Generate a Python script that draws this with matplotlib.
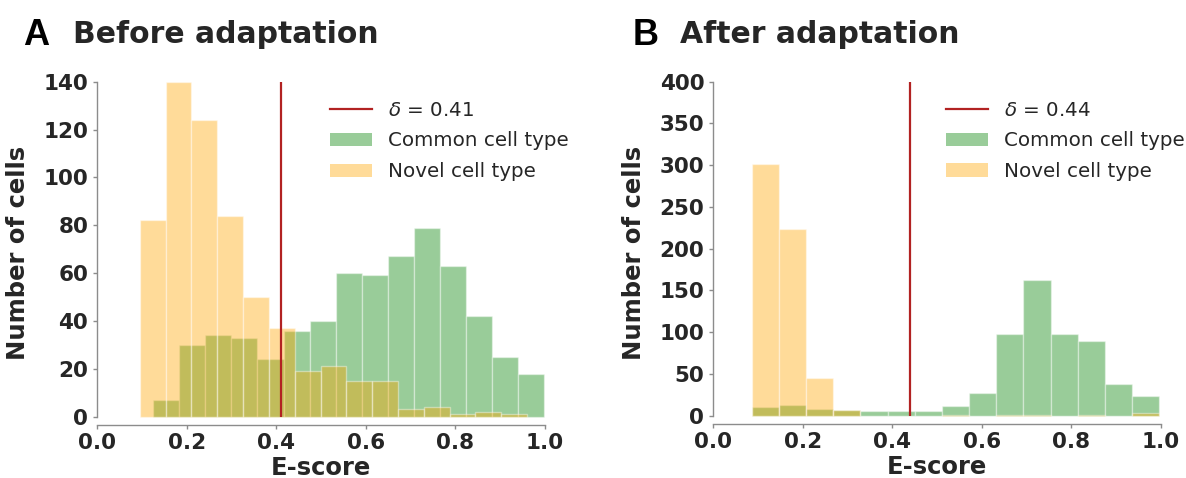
import numpy as np
import matplotlib
matplotlib.use("Agg")
import matplotlib.pyplot as plt
from matplotlib.patches import Patch
from matplotlib.lines import Line2D

# ---------------- data ----------------
# Panel A (before adaptation)
a_common_range = (0.125, 0.998)
a_common_counts = [7, 30, 34, 33, 24, 36, 40, 60, 59, 67, 79, 63, 42, 25, 18]
a_novel_range = (0.095, 0.960)
a_novel_counts = [82, 140, 124, 84, 50, 37, 19, 21, 15, 15, 3, 4, 1, 2, 1]
a_delta = 0.41

# Panel B (after adaptation)
b_common_range = (0.086, 0.996)
b_common_counts = [10, 13, 8, 7, 6, 5, 6, 11, 27, 98, 162, 98, 90, 38, 24]
b_novel_range = (0.086, 0.996)
b_novel_counts = [301, 223, 45, 7, 0, 0, 0, 1, 0, 1, 1, 0, 1, 0, 3]
b_delta = 0.44

titles = ["Before adaptation", "After adaptation"]
panel_letters = ["A", "B"]
xticks = [0.0, 0.2, 0.4, 0.6, 0.8, 1.0]
a_yticks = [0, 20, 40, 60, 80, 100, 120, 140]
b_yticks = [0, 50, 100, 150, 200, 250, 300, 350, 400]

# ---------------- style ----------------
plt.rcParams['font.family'] = ['DejaVu Sans']
TXT = '#262626'
SPINE = '#8c8c8c'
GREEN = 'green'
ORANGE = 'orange'
RED = '#b22222'

W, H = 1186, 478
fig = plt.figure(figsize=(W / 100, H / 100), dpi=100)

def px_axes(x0, x1, ytop, ybot):
    return fig.add_axes([x0 / W, 1 - ybot / H, (x1 - x0) / W, (ybot - ytop) / H])

ax_a = px_axes(97.3, 545.0, 81.7, 425.0)
ax_b = px_axes(713.3, 1161.0, 81.7, 424.0)

def draw(ax, crange, ccounts, nrange, ncounts, delta, yticks, title, letter, tx, lx):
    ce = np.linspace(crange[0], crange[1], len(ccounts) + 1)
    ne = np.linspace(nrange[0], nrange[1], len(ncounts) + 1)
    ax.bar(ce[:-1], ccounts, width=np.diff(ce), align='edge', color=GREEN,
           alpha=0.4, edgecolor='white', linewidth=1.0, zorder=2)
    ax.bar(ne[:-1], ncounts, width=np.diff(ne), align='edge', color=ORANGE,
           alpha=0.4, edgecolor='white', linewidth=1.0, zorder=3)
    ytop = yticks[-1]
    ax.vlines(delta, 0, ytop, color=RED, linewidth=1.6, zorder=4)
    ax.set_xlim(0, 1.0)
    ax.set_ylim(-0.025 * ytop, ytop)
    ax.set_xticks(xticks)
    ax.set_xticklabels([f"{t:.1f}" for t in xticks])
    ax.set_yticks(yticks)
    for s in ['top', 'right']:
        ax.spines[s].set_visible(False)
    for s in ['left', 'bottom']:
        ax.spines[s].set_color(SPINE)
        ax.spines[s].set_linewidth(1.0)
    ax.spines['left'].set_bounds(0, ytop)
    ax.spines['bottom'].set_bounds(0, 1.0)
    ax.tick_params(axis='both', colors=SPINE, labelcolor=TXT, length=3, width=1.0,
                   labelsize=15.5)
    ax.tick_params(axis='x', pad=2.5)
    ax.tick_params(axis='y', pad=3.5)
    for lab in ax.get_xticklabels() + ax.get_yticklabels():
        lab.set_fontweight('bold')
    ax.set_xlabel('E-score', fontsize=17.5, fontweight='bold', color=TXT)
    ax.xaxis.set_label_coords(0.5, -0.1456)
    ax.xaxis.label.set_va('baseline')
    ax.set_ylabel('Number of cells', fontsize=17.5, fontweight='bold', color=TXT)
    ax.yaxis.set_label_coords(-0.15, 0.5)
    handles = [Line2D([0], [0], color=RED, linewidth=1.6),
               Patch(facecolor=GREEN, alpha=0.4, edgecolor='none'),
               Patch(facecolor=ORANGE, alpha=0.4, edgecolor='none')]
    labels = [rf"$\delta$ = {delta:.2f}", "Common cell type", "Novel cell type"]
    leg = ax.legend(handles, labels, loc='upper left', bbox_to_anchor=(0.52, 0.945),
                    frameon=False, fontsize=14.3, borderpad=0, borderaxespad=0,
                    handlelength=2.1, handletextpad=0.8, labelspacing=0.6)
    for t in leg.get_texts():
        t.set_color(TXT)
    fig.text(lx / W, 1 - 45 / H, letter, fontsize=26, fontweight='bold',
             family=['Liberation Sans', 'DejaVu Sans'], color='black', va='baseline')
    fig.text(tx / W, 1 - 43 / H, title, fontsize=21.5, fontweight='bold',
             color=TXT, va='baseline')

draw(ax_a, a_common_range, a_common_counts, a_novel_range, a_novel_counts, a_delta,
     a_yticks, titles[0], panel_letters[0], 72.7, 23.3)
draw(ax_b, b_common_range, b_common_counts, b_novel_range, b_novel_counts, b_delta,
     b_yticks, titles[1], panel_letters[1], 680.0, 632.7)

fig.savefig('out.png', dpi=100)
